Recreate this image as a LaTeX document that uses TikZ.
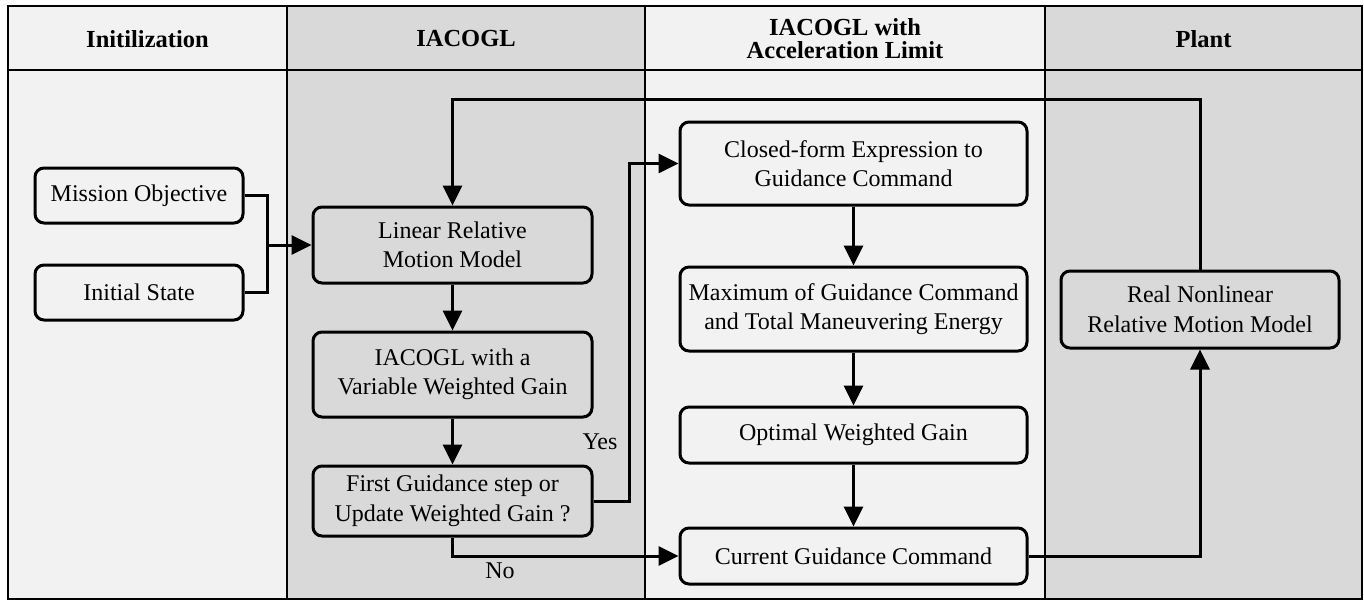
\documentclass[tikz,border=0pt]{standalone}
\usepackage{fontspec}
\setmainfont{Liberation Serif}
\usetikzlibrary{arrows.meta}
\definecolor{lightcol}{HTML}{F2F2F2}
\definecolor{darkcol}{HTML}{D9D9D9}
\begin{document}
\begin{tikzpicture}[x=1pt,y=-1pt,
  box/.style={draw=black, line width=3pt, rounded corners=9pt, inner sep=0pt,
    align=center, font=\fontsize{24}{29.5}\selectfont},
  conn/.style={draw=black, line width=3pt},
  arr/.style={conn, -{Triangle[length=20pt,width=19pt]}},
  grid/.style={draw=black, line width=1.6pt},
  head/.style={align=center, font=\bfseries\fontsize{24.5}{24}\selectfont},
  lab/.style={font=\fontsize{24}{29.5}\selectfont, inner sep=0pt}
]
\useasboundingbox (0,0) rectangle (1364,600);
% column backgrounds
\fill[lightcol] (8,6) rectangle (287,600);
\fill[darkcol] (287,6) rectangle (645,600);
\fill[lightcol] (645,6) rectangle (1045,600);
\fill[darkcol] (1045,6) rectangle (1362,600);
% grid
\draw[grid] (8,6) rectangle (1362,599);
\draw[grid] (8,70) -- (1362,70);
\draw[grid] (287,6) -- (287,599);
\draw[grid] (645,6) -- (645,599);
\draw[grid] (1045,6) -- (1045,599);
% headers
\node[head] (h1) at (147.5,39) {Initilization};
\node[head] (h2) at (466,39) {IACOGL};
\node[head] (h3) at (845,39) {IACOGL with\\[-1pt]Acceleration Limit};
\node[head] (h4) at (1203.5,39) {Plant};
% boxes
\node[box, fill=lightcol, minimum width=208pt, minimum height=55pt] (mission) at (139,195.5) {Mission Objective};
\node[box, fill=lightcol, minimum width=208pt, minimum height=55pt] (initial) at (139,292.5) {Initial State};
\node[box, fill=darkcol, minimum width=279pt, minimum height=76pt] (linear) at (452.5,245) {Linear Relative\\Motion Model};
\node[box, fill=darkcol, minimum width=279pt, minimum height=85pt] (iacogl) at (452.5,374.5) {IACOGL with a\\Variable Weighted Gain};
\node[box, fill=darkcol, minimum width=279pt, minimum height=70pt] (first) at (452.5,501) {First Guidance step or\\Update Weighted Gain ?};
\node[box, fill=lightcol, minimum width=347pt, minimum height=83pt] (closed) at (853.5,163.5) {Closed-form Expression to\\Guidance Command};
\node[box, fill=lightcol, minimum width=347pt, minimum height=84pt] (max) at (853.5,309) {Maximum of Guidance Command\\and Total Maneuvering Energy};
\node[box, fill=lightcol, minimum width=347pt, minimum height=56pt] (optimal) at (853.5,435) {Optimal Weighted Gain};
\node[box, fill=lightcol, minimum width=347pt, minimum height=56pt] (current) at (853.5,556) {Current Guidance Command};
\node[box, fill=darkcol, minimum width=278pt, minimum height=77pt] (real) at (1200,309.5) {Real Nonlinear\\Relative Motion Model};
% connectors
\coordinate (join) at (267,245);
\draw[conn] (mission.east) -| (join);
\draw[conn] (initial.east) -| (join);
\draw[arr] (join) -- (linear.west);
\draw[arr] (linear.south) -- (iacogl.north);
\draw[arr] (iacogl.south) -- (first.north);
\draw[arr] (first.east) -- ++(36,0) |- (closed.west);
\draw[arr] (first.south) |- (current.west);
\draw[arr] (closed.south) -- (max.north);
\draw[arr] (max.south) -- (optimal.north);
\draw[arr] (optimal.south) -- (current.north);
\draw[arr] (current.east) -| (real.south);
\coordinate (fb) at (452.5,99);
\draw[arr] (real.north) |- (fb) -- (linear.north);
% labels
\node[lab] (yes) at (600,442) {Yes};
\node[lab] (no) at (500,571) {No};
\end{tikzpicture}
\end{document}
